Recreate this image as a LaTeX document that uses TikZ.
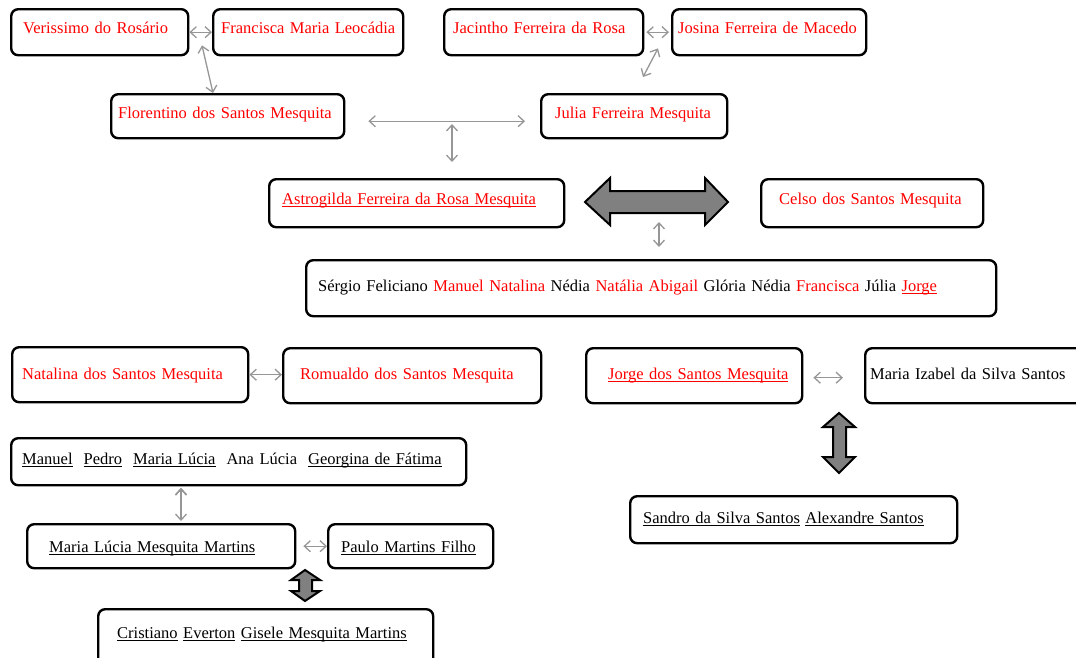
\documentclass[tikz,border=0pt]{standalone}
\usepackage{fontspec}
\setmainfont{Liberation Serif}
\usetikzlibrary{arrows.meta}

\definecolor{linkgray}{RGB}{150,150,150}
\definecolor{fatgray}{RGB}{128,128,128}
\newcommand{\uln}[1]{\leavevmode\setbox0\hbox{#1}\rlap{\rule[-3pt]{\wd0}{1.1pt}}\box0\relax}

\begin{document}
\begin{tikzpicture}
	[x=1pt,y=-1pt,
		person/.style={draw=black,line width=2.4pt,rounded corners=7pt,anchor=north west,inner xsep=2pt,inner ysep=0pt,align=left,font=\fontsize{16.5pt}{20pt}\selectfont},
		link/.style={draw=linkgray,line width=1.3pt,{Straight Barb[length=6pt,width=11pt]}-{Straight Barb[length=6pt,width=11pt]}},
		fat arrow/.style={draw=black,line width=2pt,fill=fatgray,line join=miter}]

	\useasboundingbox (0,0) rectangle (1076,657);
	\clip (0,0) rectangle (1076,657);

	% grandparents
	\node[person,text=red,text width=173pt,text height=24pt,text depth=22pt] (veri) at (10,8) {\hspace*{10pt}Verissimo do Rosário};
	\node[person,text=red,text width=186pt,text height=24pt,text depth=22pt] (fran) at (212,8) {\hspace*{6pt}Francisca Maria Leocádia};
	\node[person,text=red,text width=195pt,text height=24pt,text depth=22pt] (jac) at (443,8) {\hspace*{7pt}Jacintho Ferreira da Rosa};
	\node[person,text=red,text width=190pt,text height=24pt,text depth=22pt] (jos) at (671,8) {\hspace*{4pt}Josina Ferreira de Macedo};

	% parents
	\node[person,text=red,text width=229pt,text height=24pt,text depth=20pt] (flor) at (110,93) {\hspace*{5pt}Florentino dos Santos Mesquita};
	\node[person,text=red,text width=182pt,text height=24pt,text depth=20pt] (julia) at (540,93) {\hspace*{12pt}Julia Ferreira Mesquita};

	\node[person,text=red,text width=291pt,text height=25pt,text depth=23pt] (astro) at (268,178) {\hspace*{11pt}\uln{Astrogilda Ferreira da Rosa Mesquita}};
	\node[person,text=red,text width=218pt,text height=25pt,text depth=23pt] (celso) at (760,178) {\hspace*{16pt}Celso dos Santos Mesquita};

	\node[person,text width=686pt,text height=31pt,text depth=25pt] (sergio) at (305,259) {\hspace*{10pt}Sérgio Feliciano \textcolor{red}{Manuel Natalina} Nédia \textcolor{red}{Natália Abigail} Glória Nédia \textcolor{red}{Francisca} Júlia \textcolor{red}{\uln{Jorge}}};

	% children
	\node[person,text=red,text width=232pt,text height=32pt,text depth=23pt] (nat) at (11,346) {\hspace*{8pt}Natalina dos Santos Mesquita};
	\node[person,text=red,text width=254pt,text height=31pt,text depth=24pt] (rom) at (282,347) {\hspace*{15pt}Romualdo dos Santos Mesquita};
	\node[person,text=red,text width=212pt,text height=31pt,text depth=24pt] (jorge) at (585,347) {\hspace*{20pt}\uln{Jorge dos Santos Mesquita}};
	\node[person,text width=236pt,text height=31pt,text depth=24pt] (izabel) at (864,347) {\hspace*{3pt}Maria Izabel da Silva Santos};

	\node[person,text width=451pt,text height=26pt,text depth=21pt] (manuel) at (10,437) {\hspace*{9pt}\uln{Manuel}~ \uln{Pedro}~ \uln{Maria Lúcia}~ Ana Lúcia~ \uln{Georgina de Fátima}};
	\node[person,text width=264pt,text height=28pt,text depth=16pt] (mlucia) at (26,523) {\hspace*{20pt}\uln{Maria Lúcia Mesquita Martins}};
	\node[person,text width=161pt,text height=28pt,text depth=16pt] (paulo) at (327,523) {\hspace*{11pt}\uln{Paulo Martins Filho}};
	\node[person,text width=331pt,text height=29pt,text depth=31pt] (cris) at (97,608) {\hspace*{17pt}\uln{Cristiano} \uln{Everton} \uln{Gisele Mesquita Martins}};

	\node[person,text width=323pt,text height=27pt,text depth=20pt] (sandro) at (629,495) {\hspace*{11pt}\uln{Sandro da Silva Santos} \uln{Alexandre Santos}};

	\coordinate (fj) at (452,124);
	\coordinate (couple) at (659,222);
	\coordinate (ml) at (181,488);

	\path[link]
	(veri) edge (fran)
	([xshift=-10pt,yshift=11pt]fran.south west) edge ([xshift=103pt]flor.north west)
	(jac) edge [shorten <=2pt, shorten >=2pt] (jos)
	([xshift=-13pt,yshift=8pt]jos.south west) edge ([xshift=103pt,yshift=16pt]julia.north west)
	([yshift=-5pt]flor.east) edge [shorten <=23pt, shorten >=15pt] ([yshift=-5pt]julia.west)
	(fj) edge [shorten >=16pt] (fj |- astro.north)
	(couple) edge [shorten >=12pt] (couple |- sergio.north)
	(nat.east) edge (nat.east -| rom.west)
	([yshift=-2pt]jorge.east) edge [shorten <=10pt, shorten >=21pt] ([yshift=-2pt]izabel.west)
	(ml) edge [shorten >=2pt] (ml |- mlucia.north)
	(mlucia) edge [shorten <=7pt] (paulo)
	;

	% marriages
	\draw[fat arrow] (585,202) -- (610,178) -- (610,191) -- (705,191) -- (705,178) -- (728,202)
		-- (705,225) -- (705,213) -- (610,213) -- (610,225) -- cycle;
	\draw[fat arrow] (839,413) -- (855,427) -- (846,427) -- (846,457) -- (855,457) -- (839,473)
		-- (823,457) -- (833,457) -- (833,427) -- (823,427) -- cycle;
	\draw[fat arrow] (305,570) -- (320,580) -- (312,580) -- (312,591) -- (320,591) -- (305,601)
		-- (291,591) -- (299,591) -- (299,580) -- (291,580) -- cycle;

\end{tikzpicture}
\end{document}
